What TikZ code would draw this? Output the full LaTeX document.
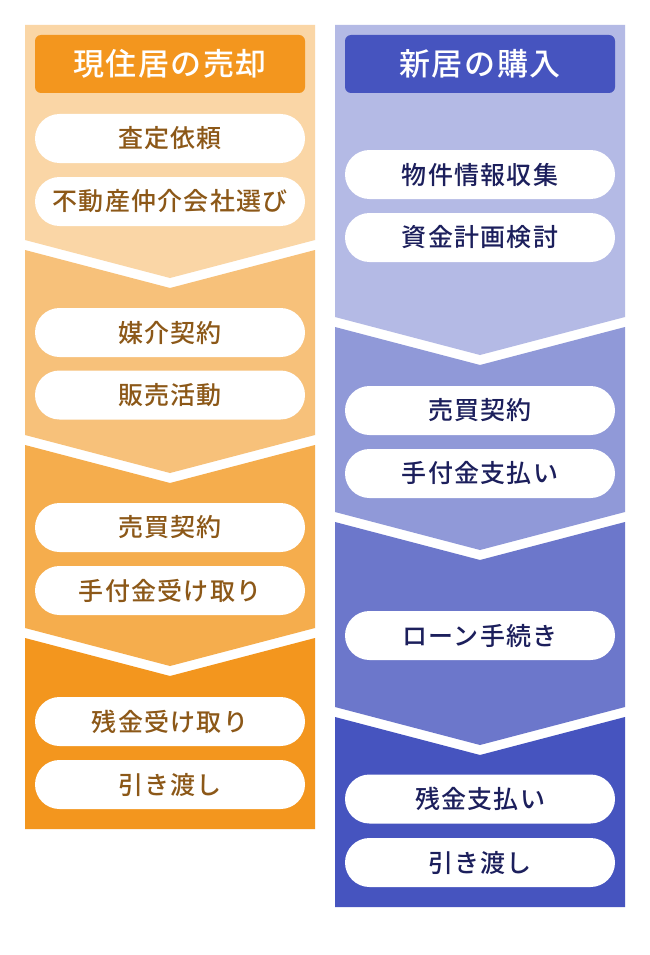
\documentclass[tikz,border=0pt]{standalone}
\usepackage{fontspec}
\setmainfont{Noto Sans CJK JP}[LetterSpace=5, BoldFont={* Medium}]
\definecolor{oA}{RGB}{250,214,166}
\definecolor{oB}{RGB}{247,193,122}
\definecolor{oC}{RGB}{245,173,77}
\definecolor{oD}{RGB}{243,150,30}
\definecolor{bA}{RGB}{180,186,229}
\definecolor{bB}{RGB}{144,153,216}
\definecolor{bC}{RGB}{108,119,203}
\definecolor{bD}{RGB}{70,84,191}
\definecolor{brownT}{RGB}{140,88,24}
\definecolor{navyT}{RGB}{28,31,92}
\tikzset{
  pill/.style={fill=white, rounded corners=24.5pt, minimum width=270pt, minimum height=49pt, inner sep=0pt, font=\bfseries\fontsize{25}{25}\selectfont},
  pillL/.style={pill, text=brownT},
  pillR/.style={pill, text=navyT},
  headbox/.style={rounded corners=6pt, minimum width=270pt, minimum height=58pt, inner sep=0pt, text=white, font=\bfseries\fontsize{31}{31}\selectfont},
}
\begin{document}
\begin{tikzpicture}[x=1pt,y=-1pt]
\useasboundingbox[fill=white] (0,0) rectangle (650,955);
% left column segments
\fill[oA] (25,25) -- (315,25) -- (315,240) -- (170,278) -- (25,240) -- cycle;
\fill[oB] (25,250) -- (170,288) -- (315,250) -- (315,435) -- (170,473) -- (25,435) -- cycle;
\fill[oC] (25,445) -- (170,483) -- (315,445) -- (315,628) -- (170,666) -- (25,628) -- cycle;
\fill[oD] (25,638) -- (170,676) -- (315,638) -- (315,829) -- (25,829) -- cycle;
% right column segments
\fill[bA] (335,25) -- (625,25) -- (625,317) -- (480,355) -- (335,317) -- cycle;
\fill[bB] (335,327) -- (480,365) -- (625,327) -- (625,512) -- (480,550) -- (335,512) -- cycle;
\fill[bC] (335,522) -- (480,560) -- (625,522) -- (625,707) -- (480,745) -- (335,707) -- cycle;
\fill[bD] (335,717) -- (480,755) -- (625,717) -- (625,907) -- (335,907) -- cycle;
% headers
\node[headbox, fill=oD] (hL) at (170,64) {現住居の売却};
\node[headbox, fill=bD] (hR) at (480,64) {新居の購入};
% left pills
\node[pillL] (l1) at (170,138.5) {査定依頼};
\node[pillL] (l2) at (170,201.5) {不動産仲介会社選び};
\node[pillL] (l3) at (170,332.5) {媒介契約};
\node[pillL] (l4) at (170,395) {販売活動};
\node[pillL] (l5) at (170,527.5) {売買契約};
\node[pillL] (l6) at (170,590.5) {手付金受け取り};
\node[pillL] (l7) at (170,721.5) {残金受け取り};
\node[pillL] (l8) at (170,784.5) {引き渡し};
% right pills
\node[pillR] (r1) at (480,174.5) {物件情報収集};
\node[pillR] (r2) at (480,237.5) {資金計画検討};
\node[pillR] (r3) at (480,410.5) {売買契約};
\node[pillR] (r4) at (480,473.5) {手付金支払い};
\node[pillR] (r5) at (480,635.5) {ローン手続き};
\node[pillR] (r6) at (480,799) {残金支払い};
\node[pillR] (r7) at (480,862.5) {引き渡し};
\end{tikzpicture}
\end{document}
